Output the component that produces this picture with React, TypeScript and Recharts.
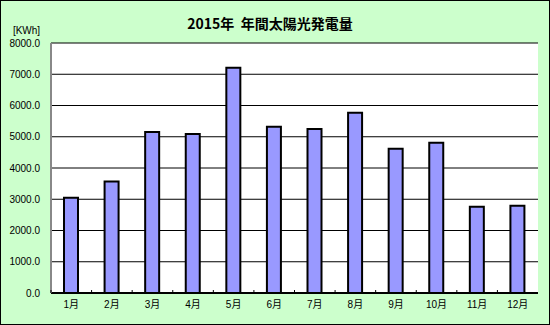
import { Bar, BarChart, CartesianGrid, XAxis, YAxis } from "recharts";

const months = ["1月", "2月", "3月", "4月", "5月", "6月", "7月", "8月", "9月", "10月", "11月", "12月"];
const output = [3050, 3570, 5150, 5090, 7210, 5320, 5250, 5770, 4620, 4810, 2760, 2790];
const yTicks = [0, 1000, 2000, 3000, 4000, 5000, 6000, 7000, 8000];

const data = months.map((m, i) => ({ month: m, kwh: output[i] }));

const FONT = "'Liberation Sans', Arial, 'Noto Sans CJK JP', sans-serif";
const TICK_GAP = 8;

function MonthTick(props: any) {
  const { x, y, payload } = props;
  const half = payload?.offset ?? 0;
  const axisY = y - TICK_GAP;
  return (
    <g>
      <line x1={x - half} x2={x - half} y1={axisY} y2={axisY - 3} stroke="#000" />
      <text x={x} y={y} dy="0.71em" textAnchor="middle" fontSize={10} fill="#000" fontFamily={FONT}>
        {payload.value}
      </text>
    </g>
  );
}

function KwhTick(props: any) {
  const { x, y, payload } = props;
  return (
    <text x={x} y={y} dy="0.355em" textAnchor="end" fontSize={10} fill="#000" fontFamily={FONT}>
      {Number(payload.value).toFixed(1)}
    </text>
  );
}

export default function App() {
  return (
    <div
      style={{
        position: "absolute",
        left: 0,
        top: 0,
        width: 550,
        height: 325,
        boxSizing: "border-box",
        border: "1px solid #000",
        background: "#CCFFCC",
        fontFamily: FONT,
      }}
    >
      <BarChart
        width={548}
        height={323}
        data={data}
        margin={{ top: 42, right: 11, left: 0, bottom: 0 }}
        barCategoryGap={0}
      >
        <CartesianGrid vertical={false} stroke="#000" fill="#fff" fillOpacity={1} />
        <XAxis
          dataKey="month"
          height={31}
          tickLine={false}
          tickSize={0}
          tickMargin={TICK_GAP}
          interval={0}
          axisLine={{ stroke: "#000", strokeWidth: 2 }}
          tick={<MonthTick />}
        />
        <XAxis xAxisId="top" orientation="top" dataKey="month" height={0} tick={false} tickLine={false} axisLine={{ stroke: "#888", strokeWidth: 2 }} />
        <YAxis
          width={50}
          type="number"
          domain={[0, 8000]}
          ticks={yTicks}
          interval={0}
          tickLine={false}
          tickMargin={5}
          tick={<KwhTick />}
          axisLine={{ stroke: "#888", strokeWidth: 2 }}
        />
        <YAxis yAxisId="right" orientation="right" width={0} tick={false} tickLine={false} axisLine={{ stroke: "#888", strokeWidth: 2 }} />
        <Bar
          dataKey="kwh"
          fill="#9999FF"
          stroke="#000"
          strokeWidth={2}
          barSize={14}
          isAnimationActive={false}
        />
      </BarChart>
      <div
        style={{
          position: "absolute",
          left: 0,
          width: 538,
          top: 12,
          textAlign: "center",
          fontFamily: "'Noto Sans CJK JP', sans-serif",
          fontWeight: "bold",
          fontSize: 14,
          lineHeight: "20px",
          whiteSpace: "pre",
        }}
      >
        {"2015年  年間太陽光発電量"}
      </div>
      <div
        style={{
          position: "absolute",
          left: 0,
          width: 51,
          top: 24,
          textAlign: "center",
          fontSize: 10,
          lineHeight: "12px",
        }}
      >
        [KWh]
      </div>
    </div>
  );
}
